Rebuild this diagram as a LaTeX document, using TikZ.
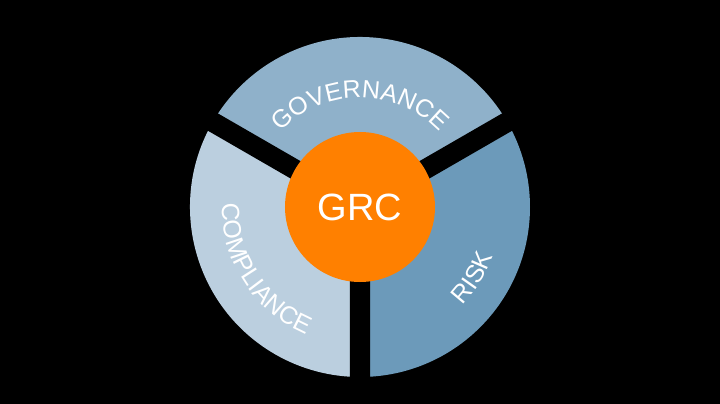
\documentclass[tikz,border=0pt]{standalone}
\usepackage{fontspec}
\setmainfont{Liberation Sans}
\usetikzlibrary{decorations.text}
\definecolor{gov}{HTML}{8FB1CA}
\definecolor{risk}{HTML}{6C9ABA}
\definecolor{comp}{HTML}{BBCFDF}
\definecolor{grc}{HTML}{FF8000}
\newcommand{\lbl}{\fontsize{25}{25}\selectfont\color{white}}
\tikzset{ringtext/.style={decorate,decoration={text along path,text align=center,text color=white,text={|\lbl|#1}}}}
\begin{document}
\begin{tikzpicture}[x=1pt,y=1pt]
\fill[black] (-360,-197) rectangle (360,207);
\useasboundingbox (-360,-197) rectangle (360,207);
\fill[gov] (0,0) -- (30:170) arc (30:150:170) -- cycle;
\fill[comp] (0,0) -- (150:170) arc (150:270:170) -- cycle;
\fill[risk] (0,0) -- (270:170) arc (270:390:170) -- cycle;
\coordinate (c) at (0,0);
\coordinate (g1) at (30:175);
\coordinate (g2) at (150:175);
\coordinate (g3) at (270:175);
\draw[black,line width=20pt] (c) -- (g1) (c) -- (g2) (c) -- (g3);
\node[circle,fill=grc,minimum size=150pt,inner sep=0pt,text=white,font=\fontsize{38}{38}\selectfont] (grcnode) at (c) {GRC};
\path[ringtext=GOVERNANCE] (150:109) arc (150:30:109);
\path[ringtext=COMPLIANCE] (160:138) arc (160:266:138);
\path[ringtext=RISK] (-72:142) arc (-72:8:142);
\end{tikzpicture}
\end{document}
